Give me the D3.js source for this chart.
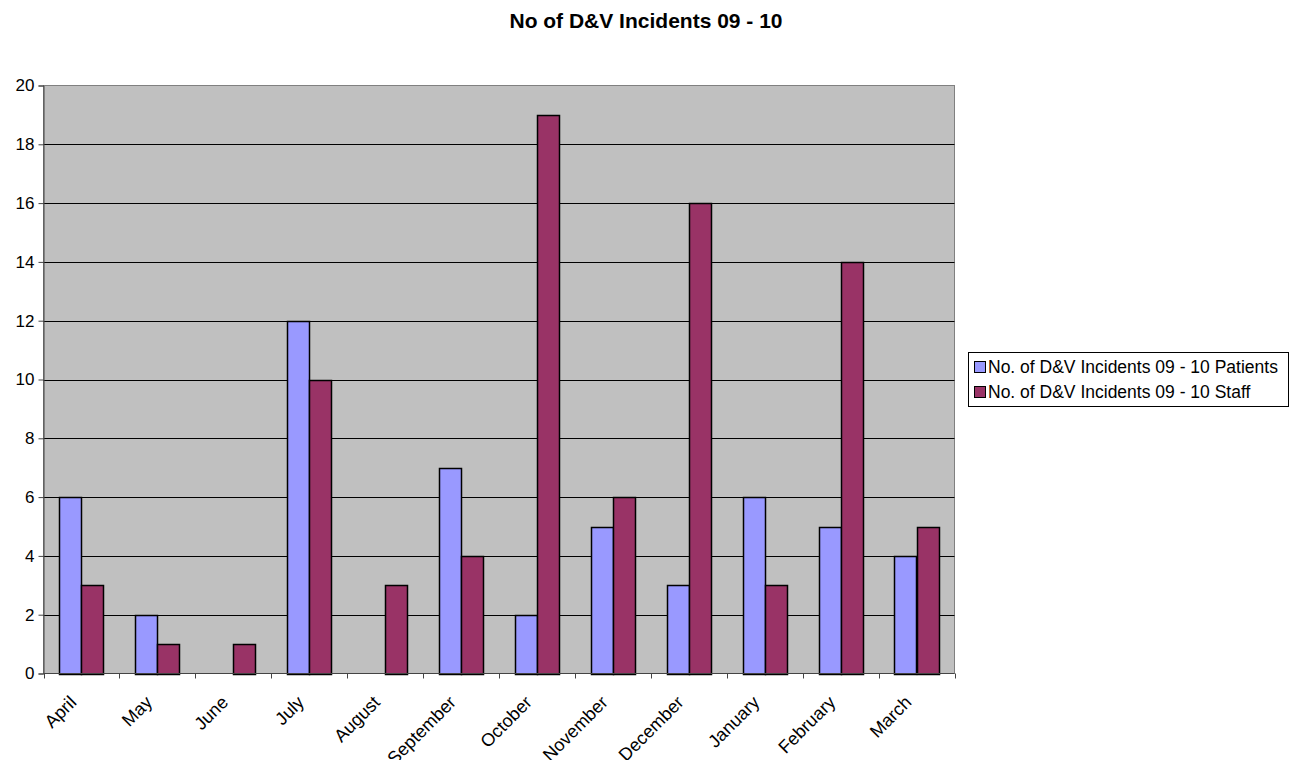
<!DOCTYPE html>
<meta charset="utf-8">
<script src="https://cdn.jsdelivr.net/npm/d3@7"></script>
<style>
body { margin: 0; background: #fff; }
text { font-family: Arial, "Liberation Sans", sans-serif; fill: #000; }
</style>
<body>
<script>

// data
var months = ["April", "May", "June", "July", "August", "September",
              "October", "November", "December", "January", "February", "March"];
var patients = [6, 2, 0, 12, 0, 7, 2, 5, 3, 6, 5, 4];
var staff = [3, 1, 1, 10, 3, 4, 19, 6, 16, 3, 14, 5];
var seriesNames = ["No. of D&V Incidents 09 - 10 Patients", "No. of D&V Incidents 09 - 10 Staff"];
var yTicks = [0, 2, 4, 6, 8, 10, 12, 14, 16, 18, 20];

var width = 1289, height = 760;
var plot = {left: 43.5, top: 85.5, right: 954.5, bottom: 673.5};
var colours = ["#9999FF", "#993366"];

var svg = d3.select("body").append("svg")
    .attr("width", width)
    .attr("height", height);

var x = d3.scaleBand()
    .domain(months)
    .range([plot.left, plot.right])
    .padding(0);

// two bars of 22px inside a 76px slot
var inner = d3.scaleBand()
    .domain([0, 1])
    .range([0, x.bandwidth()])
    .paddingInner(0)
    .paddingOuter(0.72);

var y = d3.scaleLinear()
    .domain([0, 20])
    .range([plot.bottom, plot.top]);

// plot background
svg.append("rect")
    .attr("x", plot.left)
    .attr("y", plot.top)
    .attr("width", plot.right - plot.left)
    .attr("height", plot.bottom - plot.top)
    .attr("fill", "#C0C0C0")
    .attr("stroke", "#808080")
    .attr("stroke-width", 1);

// gridlines
svg.append("g")
  .selectAll("line")
  .data(yTicks.slice(1, -1))
  .enter().append("line")
    .attr("x1", plot.left)
    .attr("x2", plot.right)
    .attr("y1", function(d) { return Math.round(y(d)) + 0.5; })
    .attr("y2", function(d) { return Math.round(y(d)) + 0.5; })
    .attr("stroke", "#000")
    .attr("stroke-width", 1);

// bars
var bars = [];
[patients, staff].forEach(function(values, si) {
  values.forEach(function(v, i) {
    if (v > 0) bars.push({month: months[i], series: si, value: v});
  });
});

svg.append("g")
  .selectAll("rect")
  .data(bars)
  .enter().append("rect")
    .attr("x", function(d) { return Math.round(x(d.month) + inner(d.series)) + 0.5; })
    .attr("y", function(d) { return Math.round(y(d.value)) + 0.5; })
    .attr("width", Math.round(inner.bandwidth()))
    .attr("height", function(d) { return Math.round(y(0)) - Math.round(y(d.value)); })
    .attr("fill", function(d) { return colours[d.series]; })
    .attr("stroke", "#000")
    .attr("stroke-width", 1.5);

// y axis
var yAxis = d3.axisLeft(y)
    .tickValues(yTicks)
    .tickSize(5)
    .tickPadding(4)
    .tickFormat(d3.format("d"));

var gy = svg.append("g")
    .attr("transform", "translate(" + plot.left + ",0)")
    .call(yAxis);
gy.select(".domain").attr("stroke", "#444");
gy.selectAll(".tick line").attr("stroke", "#444");
gy.selectAll("text").style("font-size", "17px").attr("fill", "#000");

// x axis, ticks on category boundaries
var gx = svg.append("g")
    .attr("transform", "translate(0," + plot.bottom + ")");
gx.append("line")
    .attr("x1", plot.left).attr("x2", plot.right)
    .attr("stroke", "#444");
gx.selectAll(".bt")
    .data(d3.range(months.length + 1))
  .enter().append("line")
    .attr("class", "bt")
    .attr("x1", function(i) { return Math.round(plot.left + i * x.step()) + 0.5; })
    .attr("x2", function(i) { return Math.round(plot.left + i * x.step()) + 0.5; })
    .attr("y1", 0).attr("y2", 5)
    .attr("stroke", "#444");
// labels run off the bottom edge, as in the original
gx.selectAll(".lbl")
    .data(months)
  .enter().append("text")
    .attr("class", "lbl")
    .attr("text-anchor", "end")
    .attr("transform", function(d) {
      return "translate(" + (x(d) + x.bandwidth() / 2 - 4) + ",30) rotate(-45)";
    })
    .style("font-size", "18px")
    .text(function(d) { return d; });

// title
svg.append("text")
    .attr("x", 646)
    .attr("y", 28)
    .attr("text-anchor", "middle")
    .style("font-size", "21px")
    .style("font-weight", "bold")
    .text("No of D&V Incidents 09 - 10");

// legend
var legend = svg.append("g");
legend.append("rect")
    .attr("x", 968.5).attr("y", 352.5)
    .attr("width", 320).attr("height", 54)
    .attr("fill", "#fff")
    .attr("stroke", "#000");
var item = legend.selectAll(".item")
    .data(seriesNames)
  .enter().append("g")
    .attr("transform", function(d, i) { return "translate(974," + (361 + i * 25) + ")"; });
item.append("rect")
    .attr("x", 0.5).attr("y", 0.5)
    .attr("width", 11).attr("height", 11)
    .attr("fill", function(d, i) { return colours[i]; })
    .attr("stroke", "#000");
item.append("text")
    .attr("x", 14)
    .attr("y", 12)
    .style("font-size", "17.5px")
    .text(function(d) { return d; });

</script>
</body>
</html>
